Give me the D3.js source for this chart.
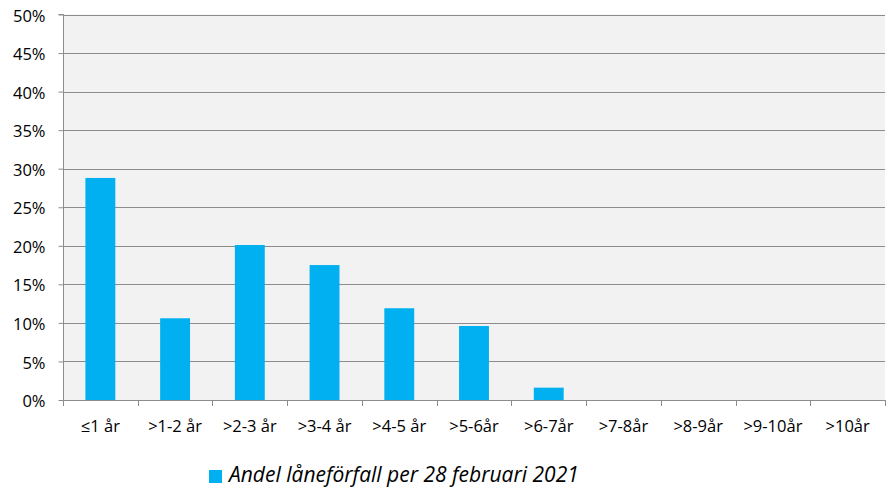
<!DOCTYPE html>
<html>
<head>
<meta charset="utf-8">
<script src="https://cdn.jsdelivr.net/npm/d3@7"></script>
<style>
  body { margin: 0; background: #fff; }
  svg { display: block; }
</style>
</head>
<body>
<svg id="chart" width="891" height="488"></svg>
<script>
// kategorier och andelar (läst från bilden)
const categories = ["≤1 år", ">1-2 år", ">2-3 år", ">3-4 år", ">4-5 år", ">5-6år", ">6-7år", ">7-8år", ">8-9år", ">9-10år", ">10år"];
const shares = [0.288, 0.106, 0.201, 0.175, 0.119, 0.096, 0.016, 0, 0, 0, 0];
const yTicks = [0, 0.05, 0.1, 0.15, 0.2, 0.25, 0.3, 0.35, 0.4, 0.45, 0.5];
const seriesName = "Andel låneförfall per 28 februari 2021";

const width = 891, height = 488;
const margin = { top: 14.5, right: 6, bottom: 88, left: 63 };
const font = "'Open Sans', sans-serif";
const gridColor = "#8c8c8c";
const barColor = "#00B0F0";

const svg = d3.select("#chart");

const x = d3.scaleBand()
  .domain(categories)
  .range([margin.left, width - margin.right])
  .paddingInner(0.6)
  .paddingOuter(0.3);

const y = d3.scaleLinear()
  .domain([0, 0.5])
  .range([height - margin.bottom, margin.top]);

// plot area
svg.append("rect")
  .attr("x", margin.left)
  .attr("y", margin.top)
  .attr("width", width - margin.right - margin.left)
  .attr("height", y(0) - margin.top)
  .attr("fill", "#f2f2f2");

// gridlines
svg.append("g")
  .selectAll("line")
  .data(yTicks.filter(d => d > 0))
  .join("line")
  .attr("x1", margin.left)
  .attr("x2", width - margin.right)
  .attr("y1", d => Math.round(y(d)) + 0.5)
  .attr("y2", d => Math.round(y(d)) + 0.5)
  .attr("stroke", gridColor)
  .attr("stroke-width", 1);

// bars
svg.append("g")
  .selectAll("rect")
  .data(shares.map((v, i) => ({ cat: categories[i], v })))
  .join("rect")
  .attr("x", d => x(d.cat))
  .attr("width", x.bandwidth())
  .attr("y", d => y(d.v))
  .attr("height", d => y(0) - y(d.v))
  .attr("fill", barColor);

// y axis
const yAxis = svg.append("g")
  .attr("transform", `translate(${margin.left + 0.5},0)`)
  .call(d3.axisLeft(y).tickValues(yTicks).tickFormat(d3.format(".0%")).tickSize(5).tickPadding(13));
yAxis.select(".domain").attr("stroke", gridColor).attr("d", `M-5,${y(0.5)}H0V${y(0)}`);
yAxis.selectAll(".tick line").attr("stroke", gridColor);
yAxis.selectAll("text").attr("font-family", font).attr("font-size", 16.5).attr("fill", "#000").attr("dy", "0.4em");

// x axis: tick marks at category boundaries
const step = x.step();
const boundaries = d3.range(categories.length + 1).map(i => margin.left + i * step);
const xg = svg.append("g");
xg.append("line")
  .attr("x1", margin.left).attr("x2", width - margin.right)
  .attr("y1", Math.round(y(0)) + 0.5).attr("y2", Math.round(y(0)) + 0.5)
  .attr("stroke", gridColor);
xg.selectAll("line.tk")
  .data(boundaries)
  .join("line")
  .attr("class", "tk")
  .attr("x1", d => Math.round(d) + 0.5).attr("x2", d => Math.round(d) + 0.5)
  .attr("y1", y(0)).attr("y2", y(0) + 6)
  .attr("stroke", gridColor);
xg.selectAll("text")
  .data(categories)
  .join("text")
  .attr("x", d => x(d) + x.bandwidth() / 2)
  .attr("y", y(0) + 32)
  .attr("text-anchor", "middle")
  .attr("font-family", font)
  .attr("font-size", 16.5)
  .text(d => d);

// legend
const lg = svg.append("g").attr("transform", "translate(209,470)");
lg.append("rect").attr("width", 13).attr("height", 13).attr("fill", barColor);
lg.append("text")
  .attr("x", 20)
  .attr("y", 12)
  .attr("font-family", font)
  .attr("font-style", "italic")
  .attr("font-size", 21)
  .text(seriesName);
</script>
</body>
</html>
